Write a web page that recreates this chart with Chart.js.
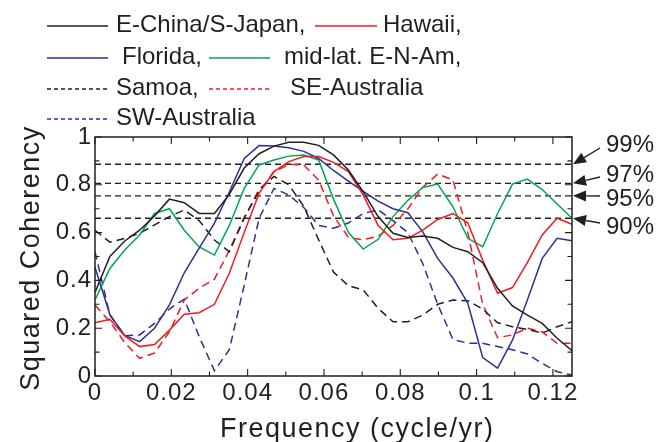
<!DOCTYPE html>
<html><head><meta charset="utf-8">
<script src="https://cdn.jsdelivr.net/npm/chart.js@4/dist/chart.umd.min.js"></script>
<style>html,body{margin:0;padding:0;background:#fff}canvas{display:block}</style>
</head><body>
<canvas id="c" width="666" height="442"></canvas>
<script>
// ---------- data ----------
const freq = [0, 0.0039, 0.0078, 0.0117, 0.0156, 0.0195, 0.0234, 0.0273, 0.0313, 0.0352, 0.0391,
  0.043, 0.0469, 0.0508, 0.0547, 0.0586, 0.0625, 0.0664, 0.0703, 0.0742, 0.0781, 0.082, 0.0859,
  0.0898, 0.0938, 0.0977, 0.1016, 0.1055, 0.1094, 0.1133, 0.1172, 0.1211, 0.125];
const eChinaSJapan = [0.35, 0.5, 0.565, 0.61, 0.67, 0.74, 0.725, 0.68, 0.68, 0.76, 0.87, 0.93, 0.962,
  0.978, 0.978, 0.965, 0.925, 0.862, 0.77, 0.667, 0.597, 0.58, 0.586, 0.576, 0.538, 0.52, 0.474,
  0.367, 0.293, 0.255, 0.22, 0.158, 0.106];
const hawaii = [0.223, 0.237, 0.168, 0.123, 0.132, 0.192, 0.258, 0.265, 0.30, 0.43, 0.6, 0.764, 0.855,
  0.897, 0.918, 0.918, 0.894, 0.855, 0.757, 0.63, 0.57, 0.576, 0.61, 0.655, 0.68, 0.64, 0.485,
  0.346, 0.37, 0.474, 0.59, 0.66, 0.635];
const florida = [0.455, 0.257, 0.17, 0.144, 0.2, 0.298, 0.432, 0.535, 0.64, 0.77, 0.91, 0.964, 0.962,
  0.955, 0.94, 0.91, 0.86, 0.815, 0.772, 0.732, 0.70, 0.683, 0.603, 0.492, 0.41, 0.304, 0.077,
  0.033, 0.15, 0.318, 0.492, 0.576, 0.566];
const midLatENAm = [0.318, 0.45, 0.527, 0.59, 0.68, 0.70, 0.61, 0.54, 0.506, 0.63, 0.785, 0.883, 0.904,
  0.92, 0.925, 0.904, 0.74, 0.60, 0.531, 0.572, 0.667, 0.735, 0.789, 0.803, 0.708, 0.576, 0.541,
  0.68, 0.803, 0.824, 0.78, 0.72, 0.66];
const samoa = [0.61, 0.56, 0.576, 0.597, 0.632, 0.667, 0.695, 0.65, 0.569, 0.52, 0.66, 0.78, 0.835,
  0.80, 0.71, 0.57, 0.435, 0.378, 0.36, 0.283, 0.227, 0.227, 0.255, 0.3, 0.318, 0.315, 0.28,
  0.223, 0.206, 0.195, 0.18, 0.206, 0.227];
const seAustralia = [0.297, 0.227, 0.14, 0.074, 0.096, 0.185, 0.318, 0.367, 0.405, 0.525, 0.664, 0.77,
  0.855, 0.885, 0.883, 0.82, 0.67, 0.58, 0.57, 0.585, 0.63, 0.7, 0.79, 0.845, 0.82, 0.6, 0.3,
  0.16, 0.172, 0.2, 0.185, 0.137, 0.137];
const swAustralia = [0.52, 0.255, 0.168, 0.172, 0.22, 0.28, 0.322, 0.165, 0.022, 0.11, 0.38, 0.66,
  0.785, 0.757, 0.705, 0.63, 0.618, 0.64, 0.68, 0.695, 0.65, 0.6, 0.47, 0.3, 0.153, 0.137, 0.137,
  0.123, 0.11, 0.092, 0.053, 0.018, 0.004];
const seriesNames = ['E-China/S-Japan,', 'Hawaii,', 'Florida,', 'mid-lat. E-N-Am,', 'Samoa,', 'SE-Australia', 'SW-Australia'];
const thresholds = [0.886, 0.806, 0.754, 0.66];
const thresholdLabels = ['99%', '97%', '95%', '90%'];
const xTickValues = [0, 0.02, 0.04, 0.06, 0.08, 0.1, 0.12];
const xTickLabels = ['0', '0.02', '0.04', '0.06', '0.08', '0.1', '0.12'];
const xMinorTicks = [0.01, 0.03, 0.05, 0.07, 0.09, 0.11];
const yTickValues = [0, 0.2, 0.4, 0.6, 0.8, 1];
const yTickLabels = ['0', '0.2', '0.4', '0.6', '0.8', '1'];
const yMinorTicks = [0.1, 0.3, 0.5, 0.7, 0.9];
const xTitle = 'Frequency (cycle/yr)';
const yTitle = 'Squared Coherency';

// ---------- styles ----------
const BLACK = '#231f20', RED = '#ed1c24', BLUE = '#2e3192', GREEN = '#00a651';
const FONT = "'Liberation Sans', Arial, Helvetica, sans-serif";
const SERIES_DASH = [8, 5];

const seriesValues = [eChinaSJapan, hawaii, florida, midLatENAm, samoa, seAustralia, swAustralia];
const seriesColors = [BLACK, RED, BLUE, GREEN, BLACK, RED, BLUE];
const seriesDashed = [false, false, false, false, true, true, true];

const datasets = seriesValues.map((vals, i) => ({
  label: seriesNames[i],
  data: freq.map((f, k) => ({x: f, y: vals[k]})),
  borderColor: seriesColors[i],
  borderWidth: 1.5,
  borderDash: seriesDashed[i] ? SERIES_DASH : [],
  pointRadius: 0,
  fill: false,
  tension: 0
}));
thresholds.forEach((t, i) => datasets.push({
  label: thresholdLabels[i] + ' level',
  data: [{x: 0, y: t}, {x: 0.125, y: t}],
  borderColor: BLACK,
  borderWidth: 1.3,
  borderDash: [6, 4],
  pointRadius: 0,
  fill: false
}));

// legend layout (positions only)
const legendLayout = [
  {x1: 47, x2: 108, y: 26, tx: 116, ty: 25},
  {x1: 315, x2: 377, y: 26, tx: 383, ty: 25},
  {x1: 47, x2: 108, y: 58, tx: 122, ty: 57.5},
  {x1: 209, x2: 270, y: 58, tx: 284, ty: 57.5},
  {x1: 47, x2: 108, y: 89, tx: 116, ty: 88.5},
  {x1: 209, x2: 270, y: 89, tx: 290, ty: 88.5},
  {x1: 47, x2: 108, y: 119, tx: 116, ty: 118}
];
const arrowTails = [[600, 148], [600, 177], [600, 196], [600, 223]];
const labelYs = [145, 175, 199, 227.5];

function drawArrow(c, x0, y0, x1, y1) {
  const ang = Math.atan2(y1 - y0, x1 - x0);
  const hl = 13, hw = 5.5;
  const bx = x1 - hl * Math.cos(ang), by = y1 - hl * Math.sin(ang);
  c.beginPath(); c.moveTo(x0, y0); c.lineTo(bx, by); c.stroke();
  c.beginPath();
  c.moveTo(x1, y1);
  c.lineTo(bx + hw * Math.sin(ang), by - hw * Math.cos(ang));
  c.lineTo(bx - hw * Math.sin(ang), by + hw * Math.cos(ang));
  c.closePath(); c.fill();
}

const deco = {
  id: 'deco',
  beforeDraw(chart) {
    const c = chart.ctx;
    c.save(); c.fillStyle = '#fff'; c.fillRect(0, 0, chart.width, chart.height); c.restore();
    c.letterSpacing = '1px';
  },
  afterDraw(chart) {
    const c = chart.ctx, a = chart.chartArea, xs = chart.scales.x, ys = chart.scales.y;
    c.save();
    c.letterSpacing = '0px';
    c.setLineDash([]);
    c.strokeStyle = BLACK; c.fillStyle = BLACK;
    // frame
    c.lineWidth = 1.5;
    c.strokeRect(a.left, a.top, a.right - a.left, a.bottom - a.top);
    // inner ticks on all sides
    c.lineWidth = 1.1;
    c.beginPath();
    const xt = (v, len) => { const p = xs.getPixelForValue(v);
      c.moveTo(p, a.bottom); c.lineTo(p, a.bottom - len); c.moveTo(p, a.top); c.lineTo(p, a.top + len); };
    const yt = (v, len) => { const p = ys.getPixelForValue(v);
      c.moveTo(a.left, p); c.lineTo(a.left + len, p); c.moveTo(a.right, p); c.lineTo(a.right - len, p); };
    xTickValues.forEach(v => xt(v, 7)); xMinorTicks.forEach(v => xt(v, 4.5));
    yTickValues.forEach(v => yt(v, 7)); yMinorTicks.forEach(v => yt(v, 4.5));
    c.stroke();
    // arrows + significance labels
    c.lineWidth = 1.4;
    thresholds.forEach((t, i) => {
      drawArrow(c, arrowTails[i][0], arrowTails[i][1], a.right + 1, ys.getPixelForValue(t));
    });
    c.font = '24px ' + FONT; c.textAlign = 'left'; c.textBaseline = 'middle';
    thresholdLabels.forEach((s, i) => c.fillText(s, 606, labelYs[i]));
    // legend
    legendLayout.forEach((L, i) => {
      const ds = chart.data.datasets[i];
      c.strokeStyle = ds.borderColor; c.lineWidth = 1.4;
      c.setLineDash(seriesDashed[i] ? [4, 3] : []);
      c.beginPath(); c.moveTo(L.x1, L.y); c.lineTo(L.x2, L.y); c.stroke();
      c.fillStyle = BLACK;
      c.fillText(ds.label, L.tx, L.ty);
    });
    c.setLineDash([]);
    // axis titles
    c.fillStyle = BLACK;
    c.font = '27px ' + FONT; c.letterSpacing = '1.5px';
    c.textBaseline = 'alphabetic'; c.textAlign = 'left';
    c.fillText(xTitle, 220, 437);
    c.save();
    c.translate(39, 258); c.rotate(-Math.PI / 2);
    c.textAlign = 'center';
    c.fillText(yTitle, 0, 0);
    c.restore();
    c.restore();
    c.letterSpacing = '0px';
  }
};

const labelOf = (vals, labels) => (v) => {
  const i = vals.findIndex(t => Math.abs(t - v) < 1e-6);
  return i >= 0 ? labels[i] : '';
};

new Chart(document.getElementById('c'), {
  type: 'line',
  data: {datasets},
  plugins: [deco],
  options: {
    responsive: false, animation: false, devicePixelRatio: 1,
    layout: {padding: {top: 137, right: 94, left: 0, bottom: 0}},
    plugins: {legend: {display: false}, tooltip: {enabled: false}},
    elements: {point: {radius: 0}, line: {tension: 0}},
    scales: {
      x: {
        type: 'linear', min: 0, max: 0.125,
        afterFit(s) { s.height = 66; },
        grid: {display: false, drawTicks: false},
        border: {display: false},
        ticks: {stepSize: 0.02, includeBounds: false, padding: 3, maxRotation: 0, autoSkip: false,
          color: BLACK, font: {family: FONT, size: 24}, callback: labelOf(xTickValues, xTickLabels)}
      },
      y: {
        type: 'linear', min: 0, max: 1,
        afterFit(s) { s.width = 95; },
        grid: {display: false, drawTicks: false},
        border: {display: false},
        ticks: {stepSize: 0.2, padding: 3, color: BLACK, font: {family: FONT, size: 24},
          callback: labelOf(yTickValues, yTickLabels)}
      }
    }
  }
});
</script>
</body></html>
